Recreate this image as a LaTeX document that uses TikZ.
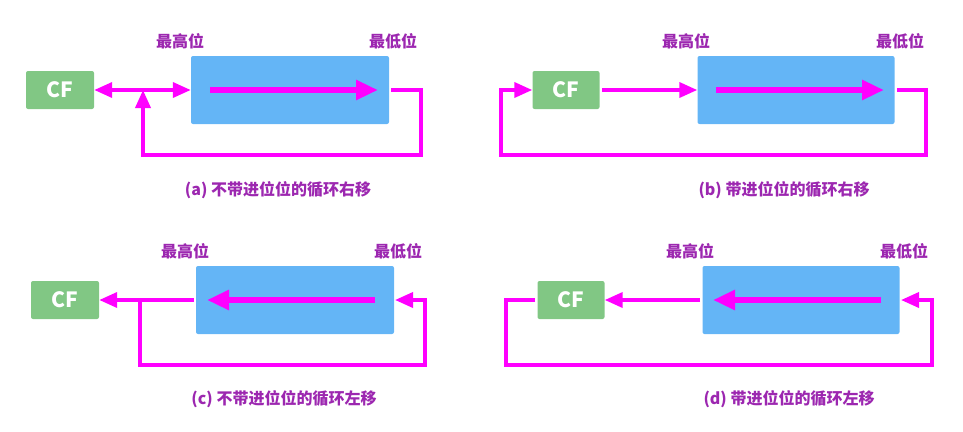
\documentclass[tikz,border=0pt]{standalone}
\usepackage{fontspec}
\setmainfont{Noto Sans CJK SC}
\usetikzlibrary{arrows.meta}
\definecolor{mag}{RGB}{255,0,255}
\definecolor{lblue}{RGB}{100,181,246}
\definecolor{lgreen}{RGB}{129,199,132}
\definecolor{lpurple}{RGB}{156,39,176}
\tikzset{
  regbox/.style={fill=lblue, rounded corners=2pt, inner sep=0pt},
  cfbox/.style={fill=lgreen, rounded corners=2pt, inner sep=0pt, text=white, font=\fontsize{21}{24}\selectfont\bfseries},
  bitlbl/.style={text=lpurple, font=\fontsize{16}{19}\selectfont\bfseries, inner sep=0pt},
  caplbl/.style={text=lpurple, font=\fontsize{16}{19}\selectfont\bfseries, inner sep=0pt},
  wire/.style={draw=mag, line width=3.6pt},
  tip/.style={-{Triangle[length=18pt,width=15pt]}},
  bigarr/.style={draw=mag, line width=5.5pt, -{Triangle[length=22pt,width=19pt]}},
}
\begin{document}
\begin{tikzpicture}[x=1pt,y=-1pt]
\useasboundingbox (0,0) rectangle (963,431);
% ---------- (a) ----------
\node[cfbox, minimum width=68pt, minimum height=38pt] (cfa) at (60,90) {CF};
\node[regbox, minimum width=198pt, minimum height=68pt] (rega) at (290,90) {};
\coordinate (ia1) at (210,90); \coordinate (ia2) at (378,90);
\draw[bigarr] (ia1) -- (ia2);
\node[bitlbl] (ha) at (180,41) {最高位};
\node[bitlbl] (la) at (393,41) {最低位};
\coordinate (ja) at (143,90);
\coordinate (oa) at (391,90);
\draw[wire, {Triangle[length=18pt,width=15pt]}-{Triangle[length=18pt,width=15pt]}] (cfa.east) -- (rega.west);
\draw[wire, tip] (oa) -| (421,155) -| (ja);
\node[caplbl] (capa) at (278,190) {(a) 不带进位位的循环右移};
% ---------- (b) ----------
\node[cfbox, minimum width=67pt, minimum height=38pt] (cfb) at (566,90) {CF};
\node[regbox, minimum width=197pt, minimum height=68pt] (regb) at (796,90) {};
\coordinate (ib1) at (716,90); \coordinate (ib2) at (884,90);
\draw[bigarr] (ib1) -- (ib2);
\node[bitlbl] (hb) at (686,41) {最高位};
\node[bitlbl] (lb) at (900,41) {最低位};
\coordinate (ob) at (897,90);
\coordinate (sb) at (602,90);
\draw[wire, tip] (sb) -- (regb.west);
\draw[wire, tip] (ob) -| (926,155) -| (501,90) -- (cfb.west);
\node[caplbl] (capb) at (784,190) {(b) 带进位位的循环右移};
% ---------- (c) ----------
\node[cfbox, minimum width=68pt, minimum height=38pt] (cfc) at (65,300) {CF};
\node[regbox, minimum width=198pt, minimum height=68pt] (regc) at (295,300) {};
\coordinate (ic1) at (375,300); \coordinate (ic2) at (207,300);
\draw[bigarr] (ic1) -- (ic2);
\node[bitlbl] (hc) at (185,251) {最高位};
\node[bitlbl] (lc) at (398,251) {最低位};
\coordinate (sc) at (194,300);
\coordinate (jc) at (140,300);
\coordinate (tc) at (395,300);
\draw[wire, tip] (sc) -- (cfc.east);
\draw[wire, tip] (jc) |- (425,365) |- (tc);
\node[caplbl] (capc) at (284,399) {(c) 不带进位位的循环左移};
% ---------- (d) ----------
\node[cfbox, minimum width=67pt, minimum height=38pt] (cfd) at (571,300) {CF};
\node[regbox, minimum width=197pt, minimum height=68pt] (regd) at (801,300) {};
\coordinate (id1) at (881,300); \coordinate (id2) at (713,300);
\draw[bigarr] (id1) -- (id2);
\node[bitlbl] (hd) at (690,251) {最高位};
\node[bitlbl] (ld) at (904,251) {最低位};
\coordinate (sd) at (700,300);
\coordinate (td) at (901,300);
\coordinate (ed) at (535,300);
\draw[wire, tip] (sd) -- (cfd.east);
\draw[wire, tip] (ed) -| (506,365) -| (932,300) -- (td);
\node[caplbl] (capd) at (789,399) {(d) 带进位位的循环左移};
\end{tikzpicture}
\end{document}
